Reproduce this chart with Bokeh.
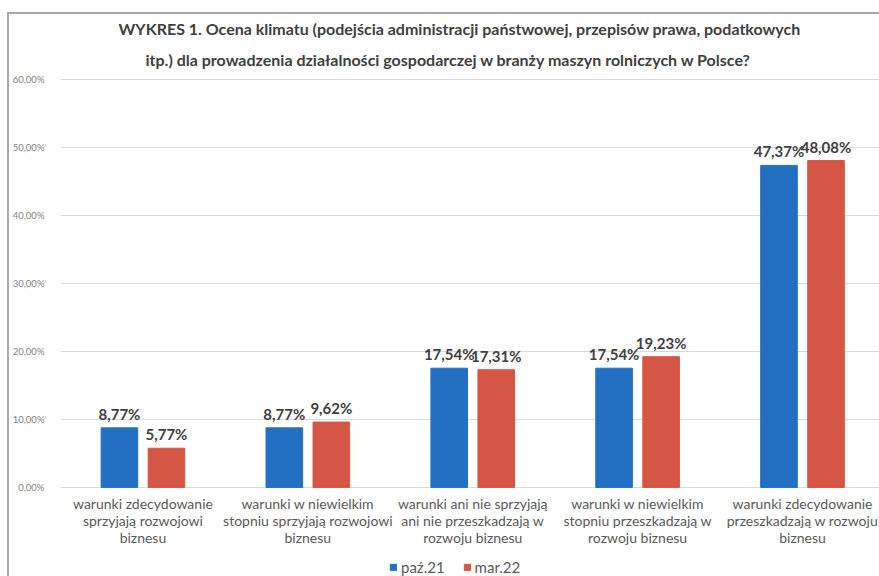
from bokeh.plotting import figure
from bokeh.models import (ColumnDataSource, Range1d, FixedTicker, Legend, LegendItem, Title)
from bokeh.core.properties import value
from bokeh.embed import file_html
from bokeh.resources import INLINE

categories = [
    "warunki zdecydowanie\nsprzyjają rozwojowi\nbiznesu",
    "warunki w niewielkim\nstopniu sprzyjają rozwojowi\nbiznesu",
    "warunki ani nie sprzyjają\nani nie przeszkadzają w\nrozwoju biznesu",
    "warunki w niewielkim\nstopniu przeszkadzają w\nrozwoju biznesu",
    "warunki zdecydowanie\nprzeszkadzają w rozwoju\nbiznesu",
]
series_names = ["paź.21", "mar.22"]
paz21 = [8.77, 8.77, 17.54, 17.54, 47.37]
mar22 = [5.77, 9.62, 17.31, 19.23, 48.08]
y_ticks = [0, 10, 20, 30, 40, 50, 60]

title_line1 = "WYKRES 1. Ocena klimatu (podejścia administracji państwowej, przepisów prawa, podatkowych"
title_line2 = "itp.) dla prowadzenia działalności gospodarczej w branży maszyn rolniczych w Polsce?"

BLUE = "#2370C2"
RED = "#D55644"
FONT = "Lato"

def fmt(v):
    return f"{v:.2f}".replace(".", ",") + "%"

xc = [i + 0.5 for i in range(len(categories))]
off = 0.1426
bw = 0.222
src_a = ColumnDataSource(dict(x=[c - off for c in xc], top=paz21, lab=[fmt(v) for v in paz21]))
src_b = ColumnDataSource(dict(x=[c + off for c in xc], top=mar22, lab=[fmt(v) for v in mar22]))
src_c = ColumnDataSource(dict(x=xc, y=[0] * len(xc), lab=categories))

p = figure(width=879, height=576, output_backend="svg", toolbar_location=None,
           x_range=Range1d(0, 4.967), y_range=Range1d(-13.1, 60.15),
           x_axis_location=None,
           min_border_left=60, min_border_right=0, min_border_top=78, min_border_bottom=0)
p.outline_line_color = None
p.background_fill_color = "white"
p.border_fill_alpha = 0
p.styles = {"background": "linear-gradient(#a9a9a9, #a9a9a9) 7px 12px / 2px 100% no-repeat, "
                          "linear-gradient(#a9a9a9, #a9a9a9) 7px 12px / 100% 2px no-repeat, white"}

t2 = Title(text=title_line2, align="left", offset=85, text_font=FONT, text_font_size="16px",
           text_font_style="bold", text_color="#404040", standoff=20)
t1 = Title(text=title_line1, align="left", offset=58, text_font=FONT, text_font_size="16px",
           text_font_style="bold", text_color="#404040", standoff=0)
p.add_layout(t2, "above")
p.add_layout(t1, "above")

ra = p.vbar(x="x", top="top", width=bw, bottom=0, source=src_a, color=BLUE)
rb = p.vbar(x="x", top="top", width=bw, bottom=0, source=src_b, color=RED)

for src in (src_a, src_b):
    p.text(x="x", y="top", text="lab", source=src, text_align="center", text_baseline="bottom",
           y_offset=-5, text_font=value(FONT), text_font_size="15px", text_font_style="bold",
           text_color="#404040")

# category labels under the bars
p.text(x="x", y="y", text="lab", source=src_c, text_align="center", text_baseline="top",
       y_offset=8, text_font=value(FONT), text_font_size="14px", text_color="#595959",
       text_line_height=1.0)

p.xgrid.visible = False
p.ygrid.ticker = FixedTicker(ticks=y_ticks)
p.ygrid.grid_line_color = "#d9d9d9"

p.yaxis.ticker = FixedTicker(ticks=y_ticks)
p.yaxis.major_label_overrides = {t: f"{t:.2f}".replace(".", ",") + "%" for t in y_ticks}
p.yaxis.axis_line_color = None
p.yaxis.major_tick_line_color = None
p.yaxis.minor_tick_line_color = None
p.yaxis.major_label_text_font = FONT
p.yaxis.major_label_text_font_size = "9.5px"
p.yaxis.major_label_text_color = "#7f7f7f"
p.yaxis.major_label_standoff = 10

legend = Legend(items=[LegendItem(label=series_names[0], renderers=[ra]),
                       LegendItem(label=series_names[1], renderers=[rb])],
                orientation="horizontal", location=(329, 0),
                label_text_font=FONT, label_text_font_size="15px", label_text_color="#595959",
                glyph_width=8, glyph_height=8, spacing=18, label_standoff=4,
                border_line_color=None, background_fill_alpha=0, padding=0, margin=0)
p.add_layout(legend, "center")

open("out.html", "w").write(file_html(p, INLINE))
